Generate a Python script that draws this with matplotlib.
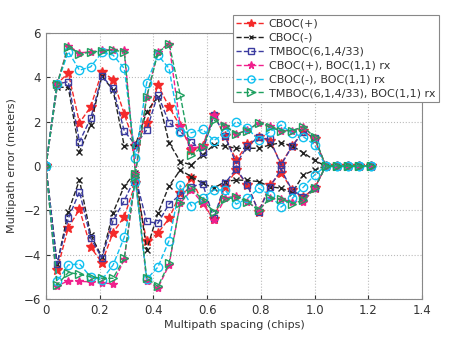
import matplotlib.pyplot as plt

# multipath spacing in chips, one point every 1/24 chip
spacing = [k / 24 for k in range(30)]

labels = ["CBOC(+)", "CBOC(-)", "TMBOC(6,1,4/33)",
          "CBOC(+), BOC(1,1) rx", "CBOC(-), BOC(1,1) rx",
          "TMBOC(6,1,4/33), BOC(1,1) rx"]

# upper (in-phase) envelopes
cbocp_up = [0, 3.7, 4.2, 1.95, 2.67, 4.25, 3.9, 2.34, 0.9, 1.95, 3.65, 2.67, 1.8, 0.72, 0.9,
            2.3, 1.35, 0.25, 1.0, 1.3, 1.15, 0.1, 0.9, 1.6, 1.2, 0, 0, 0, 0, 0]
cbocm_up = [0, 3.55, 3.55, 0.65, 1.85, 4.05, 3.42, 0.9, 0.95, 2.45, 3.12, 1.05, 0.2, 0.05, 0.5,
            0.95, 0.9, 0.8, 0.8, 0.8, 0.95, 1.05, 0.9, 0.6, 0.25, 0, 0, 0, 0, 0]
tmboc_up = [0, 3.7, 3.8, 1.1, 2.15, 4.05, 3.5, 1.58, 0.95, 1.62, 3.22, 1.95, 1.55, 1.1, 0.65,
            2.3, 1.35, 0.1, 0.9, 1.3, 1.2, 0.05, 0.9, 1.55, 1.25, 0, 0, 0, 0, 0]
cbocp_rx_up = [0, 3.7, 5.42, 5.1, 5.15, 5.22, 5.25, 5.25, -0.3, 3.12, 5.15, 5.52, 1.8, 0.8, 0.9,
               2.3, 1.8, 1.45, 1.62, 1.95, 1.8, 1.6, 1.6, 1.77, 1.25, 0, 0, 0, 0, 0]
cbocm_rx_up = [0, 3.7, 5.15, 4.32, 4.47, 5.12, 5.0, 4.4, 0.35, 3.75, 5.0, 4.4, 1.55, 1.5, 1.65,
               1.15, 1.47, 2.0, 1.7, 1.17, 1.55, 1.85, 1.47, 1.32, 0.95, 0, 0, 0, 0, 0]
tmboc_rx_up = [0, 3.7, 5.37, 5.07, 5.12, 5.2, 5.22, 5.15, -0.35, 3.1, 5.1, 5.52, 3.2, 0.5, 0.87,
               2.07, 1.8, 1.45, 1.6, 1.95, 1.75, 1.58, 1.6, 1.77, 1.3, 0, 0, 0, 0, 0]

# lower (anti-phase) envelopes
cbocp_lo = [0, -4.68, -2.78, -1.95, -3.66, -4.35, -3.0, -2.28, -0.78, -3.4, -3.03, -2.36, -1.23, -0.56, -1.68,
            -2.4, -0.93, -0.2, -0.85, -2.06, -0.85, -0.3, -1.08, -1.4, -1.0, 0, 0, 0, 0, 0]
cbocm_lo = [0, -4.43, -2.06, -0.63, -3.1, -4.1, -2.1, -0.9, -0.3, -3.78, -2.13, -0.9, -0.18, -0.48, -0.78,
            -1.0, -0.7, -0.63, -0.65, -0.7, -0.93, -1.0, -1.2, -0.4, -0.18, 0, 0, 0, 0, 0]
tmboc_lo = [0, -4.43, -2.36, -1.16, -3.25, -4.15, -2.46, -1.56, -0.5, -2.5, -2.58, -1.71, -1.3, -0.93, -0.8,
            -2.36, -0.78, -0.12, -0.86, -2.06, -0.95, -0.15, -1.1, -1.4, -1.0, 0, 0, 0, 0, 0]
cbocp_rx_lo = [0, -5.4, -5.18, -5.2, -5.22, -5.28, -5.3, -4.2, -0.55, -5.2, -5.5, -4.46, -1.68, -1.08, -1.68,
               -2.43, -1.45, -1.35, -1.6, -2.0, -1.45, -1.5, -1.6, -1.6, -1.0, 0, 0, 0, 0, 0]
cbocm_rx_lo = [0, -5.2, -4.46, -4.41, -5.0, -5.13, -4.46, -3.21, -0.7, -5.1, -4.56, -3.36, -0.86, -1.8, -1.46,
               -1.08, -1.08, -1.72, -1.46, -1.0, -1.3, -1.85, -1.46, -0.95, -0.4, 0, 0, 0, 0, 0]
tmboc_rx_lo = [0, -5.36, -4.8, -4.88, -5.0, -5.06, -5.06, -4.16, -0.5, -5.06, -5.43, -4.38, -1.68, -1.0, -1.53,
               -2.06, -1.5, -1.4, -1.6, -2.0, -1.45, -1.5, -1.7, -1.55, -1.0, 0, 0, 0, 0, 0]

uppers = [cbocp_up, cbocm_up, tmboc_up, cbocp_rx_up, cbocm_rx_up, tmboc_rx_up]
lowers = [cbocp_lo, cbocm_lo, tmboc_lo, cbocp_rx_lo, cbocm_rx_lo, tmboc_rx_lo]

styles = [
    dict(color="#f42a2a", marker="*", ms=7, mfc="#f42a2a"),
    dict(color="#222222", marker="x", ms=4, mfc="none"),
    dict(color="#3c3ca0", marker="s", ms=5, mfc="none"),
    dict(color="#f0208c", marker="*", ms=6, mfc="#f0208c"),
    dict(color="#10c0f0", marker="o", ms=6, mfc="none"),
    dict(color="#1fa060", marker=">", ms=6, mfc="none"),
]


def main():
    fig = plt.figure(figsize=(4.5, 3.54), dpi=100)
    ax = fig.add_axes([0.102, 0.155, 0.836, 0.752])

    for lab, up, lo, st in zip(labels, uppers, lowers, styles):
        kw = dict(linestyle="--", lw=1.0, color=st["color"], marker=st["marker"],
                  markersize=st["ms"], markerfacecolor=st["mfc"],
                  markeredgecolor=st["color"], markeredgewidth=1.0)
        ax.plot(spacing, up, label=lab, **kw)
        ax.plot(spacing, lo, **kw)

    ax.set_xlim(0, 1.4)
    ax.set_ylim(-6, 6)
    ax.set_xticks([0, 0.2, 0.4, 0.6, 0.8, 1.0, 1.2, 1.4])
    ax.set_xticklabels(["0", "0.2", "0.4", "0.6", "0.8", "1.0", "1.2", "1.4"])
    ax.set_yticks([-6, -4, -2, 0, 2, 4, 6])
    ax.grid(True, linestyle=":", color="#bbbbbb", lw=0.8)
    ax.tick_params(labelsize=8.5, colors="#333333", length=3, direction="in")
    for s in ax.spines.values():
        s.set_color("#888888")

    ax.set_xlabel("Multipath spacing (chips)", fontsize=8, color="#333333", labelpad=2)
    ax.set_ylabel("Multipath error (meters)", fontsize=8, color="#333333", labelpad=5)

    leg = ax.legend(loc="upper right", bbox_to_anchor=(439 / 450, 1 - 15 / 354),
                    bbox_transform=fig.transFigure, fontsize=8.0, handlelength=2.6,
                    labelspacing=0.35, borderpad=0.35, handletextpad=0.3,
                    fancybox=False, framealpha=1.0, borderaxespad=0, markerscale=0.85)
    leg.get_frame().set_edgecolor("#888888")
    leg.get_frame().set_linewidth(0.8)
    for t in leg.get_texts():
        t.set_color("#333333")

    fig.savefig("out.png", dpi=100)


if __name__ == "__main__":
    main()
